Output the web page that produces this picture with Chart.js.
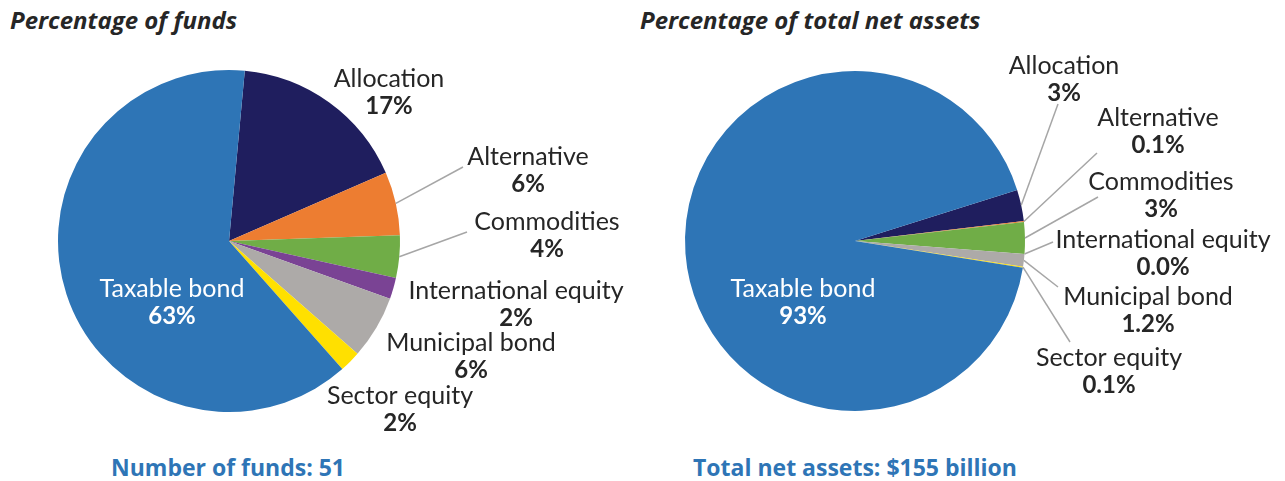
<!DOCTYPE html>
<html>
<head>
<meta charset="utf-8">
<script src="https://cdn.jsdelivr.net/npm/chart.js@4.4.0/dist/chart.umd.min.js"></script>
<style>
    body { margin: 0; background: #fff; width: 1285px; height: 481px; position: relative; overflow: hidden; font-family: 'Open Sans', sans-serif; }
    .box { position: absolute; top: 0; height: 481px; }
    #leftBox { left: 0; width: 640px; }
    #rightBox { left: 640px; width: 645px; }
    .title { position: absolute; top: 6px; line-height: 28px; font-style: italic; font-weight: bold; font-size: 24px; color: #262626; white-space: nowrap; }
    .foot { position: absolute; top: 453px; line-height: 28px; font-weight: bold; font-size: 23px; color: #2E75B6; white-space: nowrap; transform: translateX(-50%); }
</style>
</head>
<body>
<div class="title" style="left:10px">Percentage of funds</div>
<div class="title" style="left:640px">Percentage of total net assets</div>
<div class="foot" style="left:228px">Number of funds: 51</div>
<div class="foot" style="left:855px">Total net assets: $155 billion</div>
<div class="box" id="leftBox"><canvas id="fundsChart" width="640" height="481"></canvas></div>
<div class="box" id="rightBox"><canvas id="assetsChart" width="645" height="481"></canvas></div>
<script>
// Fund categories and their shares
const categories = ['Allocation', 'Alternative', 'Commodities', 'International equity', 'Municipal bond', 'Sector equity', 'Taxable bond'];
const fundShares = [17, 6, 4, 2, 6, 2, 63];
const fundLabels = ['17%', '6%', '4%', '2%', '6%', '2%', '63%'];
const assetShares = [3, 0.1, 3, 0.0, 1.2, 0.1, 93];
const assetLabels = ['3%', '0.1%', '3%', '0.0%', '1.2%', '0.1%', '93%'];

const sliceColors = ['#1F1E5E', '#ED7D31', '#70AD47', '#7A4394', '#ADAAA8', '#FFE000', '#2E75B6'];

// label placement, offsets from the pie centre: text = name line, lead = leader line end
const fundsLayout = [
    { text: [160, -162] },
    { text: [299, -84], lead: [234, -74] },
    { text: [318, -19], lead: [238, -9] },
    { text: [287, 50] },
    { text: [242, 102] },
    { text: [171, 155] },
    { text: [-57, 48], white: true }
];
const assetsLayout = [
    { text: [209, -175], lead: [203, -137] },
    { text: [303, -123], lead: [242, -88] },
    { text: [306, -59], lead: [243, -44] },
    { text: [308, -1], lead: [198, 1] },
    { text: [293, 56], lead: [203, 46] },
    { text: [254, 117], lead: [215, 101] },
    { text: [-52, 48], white: true }
];

const pieLabels = {
    id: 'pieLabels',
    afterDatasetsDraw(chart, args, opts) {
        const ctx = chart.ctx;
        const meta = chart.getDatasetMeta(0);
        const names = chart.data.labels;
        meta.data.forEach((arc, i) => {
            const p = opts.layout[i];
            const cx = arc.x, cy = arc.y;
            const tx = cx + p.text[0], ty = cy + p.text[1];
            ctx.save();
            if (p.lead) {
                const mid = (arc.startAngle + arc.endAngle) / 2;
                const r = arc.outerRadius;
                ctx.strokeStyle = '#A6A6A6';
                ctx.lineWidth = 1.5;
                ctx.beginPath();
                ctx.moveTo(cx + r * Math.cos(mid), cy + r * Math.sin(mid));
                ctx.lineTo(cx + p.lead[0], cy + p.lead[1]);
                ctx.stroke();
            }
            ctx.fillStyle = p.white ? '#FFFFFF' : '#262626';
            ctx.textAlign = 'center';
            ctx.textBaseline = 'middle';
            ctx.font = '25px Lato';
            ctx.fillText(names[i], tx, ty);
            ctx.font = 'bold 24px Lato';
            ctx.fillText(opts.pcts[i], tx, ty + 27);
            ctx.restore();
        });
    }
};

function makePie(canvasId, values, pcts, layout, rotation, padding) {
    return new Chart(document.getElementById(canvasId), {
        type: 'pie',
        data: {
            labels: categories,
            datasets: [{
                data: values,
                backgroundColor: sliceColors,
                borderWidth: 0,
                hoverOffset: 0
            }]
        },
        options: {
            responsive: false,
            animation: false,
            events: [],
            rotation: rotation,
            layout: { padding: padding },
            plugins: {
                legend: { display: false },
                tooltip: { enabled: false },
                pieLabels: { layout: layout, pcts: pcts }
            }
        },
        plugins: [pieLabels]
    });
}

Promise.all([document.fonts.load('25px Lato'), document.fonts.load('bold 24px Lato')]).then(() => {
    makePie('fundsChart', fundShares, fundLabels, fundsLayout, 5.3, { left: 58, right: 240, top: 70, bottom: 69 });
    makePie('assetsChart', assetShares, assetLabels, assetsLayout, 72.5, { left: 45, right: 260, top: 71, bottom: 70 });
});
</script>
</body>
</html>
